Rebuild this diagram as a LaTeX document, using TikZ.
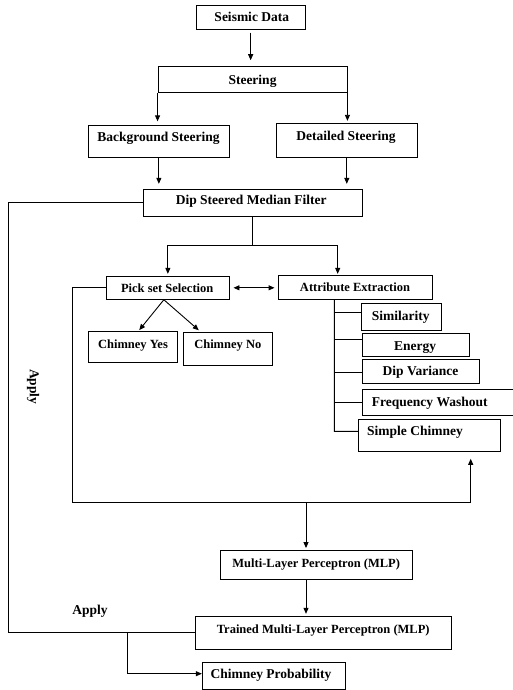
\documentclass[tikz,border=0pt]{standalone}
\usepackage{fontspec}
\setmainfont{Liberation Serif}
\usetikzlibrary{arrows.meta}
\begin{document}
\begin{tikzpicture}[x=1pt,y=-1pt,
 box/.style={draw, line width=0.9pt, inner sep=0pt},
 txt/.style={inner sep=0pt, font=\fontsize{13.5}{16}\selectfont\bfseries, text height=9pt, text depth=0pt},
 txs/.style={inner sep=0pt, font=\fontsize{12.5}{15}\selectfont\bfseries, text height=8.3pt, text depth=0pt},
 ln/.style={line width=0.9pt},
 arr/.style={ln, -{Triangle[length=6pt,width=5pt]}},
]
\useasboundingbox (0,0) rectangle (513,690);
% boxes
\node[box, minimum width=109.3pt, minimum height=23.6pt] (seismic) at (250.65,17.5) {};
\node[box, minimum width=189pt, minimum height=26pt] (steer) at (252.5,79.7) {};
\node[box, minimum width=140.3pt, minimum height=32pt] (bg) at (158.85,141.3) {};
\node[box, minimum width=141pt, minimum height=34pt] (det) at (346.8,140.3) {};
\node[box, minimum width=219pt, minimum height=27pt] (dip) at (252.8,202.5) {};
\node[box, minimum width=122.3pt, minimum height=23pt] (pick) at (167.85,287.8) {};
\node[box, minimum width=154.7pt, minimum height=24.4pt] (attr) at (355.35,287.5) {};
\node[box, minimum width=88.6pt, minimum height=30.6pt] (yes) at (133,347) {};
\node[box, minimum width=88.6pt, minimum height=33.3pt] (no) at (228,348.65) {};
\node[box, minimum width=80pt, minimum height=26.3pt] (sim) at (401,316.85) {};
\node[box, minimum width=107.3pt, minimum height=23.7pt] (energy) at (415.65,344.85) {};
\node[box, minimum width=116.6pt, minimum height=24.7pt] (dipvar) at (421,371.35) {};
\node[box, minimum width=157.3pt, minimum height=26pt] (freq) at (441.35,402.3) {};
\node[box, minimum width=142pt, minimum height=32pt] (simple) at (429.3,435.3) {};
\node[box, minimum width=192pt, minimum height=29pt] (mlp) at (316.3,564.5) {};
\node[box, minimum width=256pt, minimum height=33pt] (trained) at (323.7,632.8) {};
\node[box, minimum width=143pt, minimum height=27pt] (prob) at (273.8,675.8) {};
% texts
\node[txt] (t-seismic) at (251.8,17) {Seismic Data};
\node[txt] (t-steer) at (252.5,80) {Steering};
\node[txt] (t-bg) at (158.5,137) {Background Steering};
\node[txt] (t-det) at (346,136) {Detailed Steering};
\node[txt] (t-dip) at (251.2,200) {Dip Steered Median Filter};
\node[txs] (t-pick) at (167.2,288.7) {Pick set Selection};
\node[txs] (t-attr) at (355,287.3) {Attribute Extraction};
\node[txs] (t-yes) at (133,344) {Chimney Yes};
\node[txs] (t-no) at (227.8,344) {Chimney No};
\node[txt] (t-sim) at (400.7,316) {Similarity};
\node[txt] (t-energy) at (415.2,345.7) {Energy};
\node[txt] (t-dipvar) at (420.5,371) {Dip Variance};
\node[txt, anchor=west] (t-freq) at (371.7,401.7) {Frequency Washout};
\node[txt, anchor=west] (t-simple) at (367,431) {Simple Chimney};
\node[txs] (t-mlp) at (316.2,563) {Multi-Layer Perceptron (MLP)};
\node[txs] (t-trained) at (323.2,629.3) {Trained Multi-Layer Perceptron (MLP)};
\node[txt] (t-prob) at (271,674.3) {Chimney Probability};
\node[txt] (t-apply1) at (90,609.7) {Apply};
\node[txt, rotate=-90] (t-apply2) at (34.3,386.7) {Apply};
% connectors
\draw[arr, shorten <=3pt, shorten >=6pt] (seismic.south) -- (seismic.south |- steer.north);
\draw[arr, shorten >=3.5pt] (steer.south west) -- (steer.south west |- bg.north);
\draw[arr, shorten >=2pt] (steer.south east) -- (steer.south east |- det.north);
\draw[arr, shorten >=4.7pt] (bg.south) -- (bg.south |- dip.north);
\draw[arr, shorten >=4.7pt] (det.south) -- (det.south |- dip.north);
\draw[ln] (dip.west) -- ++(-134.3,0) |- (trained.west);
\coordinate (split) at (252.8,245);
\coordinate (attrin) at (337.7,245);
\draw[ln] (dip.south) -- (split);
\draw[arr, shorten >=2pt] (split) -| (pick.north);
\draw[arr, shorten >=1pt] (split) -- (attrin) -- (attrin |- attr.north);
\draw[ln, {Triangle[length=6pt,width=5pt]}-{Triangle[length=6pt,width=5pt]}, shorten <=4pt, shorten >=3pt] (pick.east) -- (pick.east -| attr.west);
\coordinate (loopL) at (72,502.3);
\coordinate (mlpin) at (306,502.3);
\coordinate (loopR) at (470.7,502.3);
\draw[arr, shorten >=7pt] (pick.west) -| (loopL) -- (loopR) -- (loopR |- simple.south);
\draw[arr, shorten >=1.5pt] (mlpin) -- (mlpin |- mlp.north);
\draw[arr, shorten >=1.5pt] ([xshift=-4pt]pick.south) -- ([xshift=5.3pt]yes.north);
\draw[arr, shorten >=2pt] ([xshift=-4pt]pick.south) -- ([xshift=-27.7pt]no.north);
% attribute tree
\coordinate (s1) at (334.3,312.3);
\coordinate (s2) at (334.3,339);
\coordinate (s3) at (334.3,372.7);
\coordinate (s4) at (334.3,402.3);
\coordinate (s5) at (334.3,431.3);
\draw[ln] ([xshift=-21pt]attr.south) -- (s5) -- (s5 -| simple.west);
\draw[ln] (s1) -- (s1 -| sim.west);
\draw[ln] (s2) -- (s2 -| energy.west);
\draw[ln] (s3) -- (s3 -| dipvar.west);
\draw[ln] (s4) -- (s4 -| freq.west);
% MLP
\coordinate (mo) at ([xshift=-10.3pt]mlp.south);
\draw[arr, shorten >=2pt] (mo) -- (mo |- trained.north);
\coordinate (pb) at (127,632.8);
\coordinate (pb2) at (127,673.7);
\draw[arr] (pb) -- (pb2) -- (pb2 -| prob.west);
\end{tikzpicture}
\end{document}
